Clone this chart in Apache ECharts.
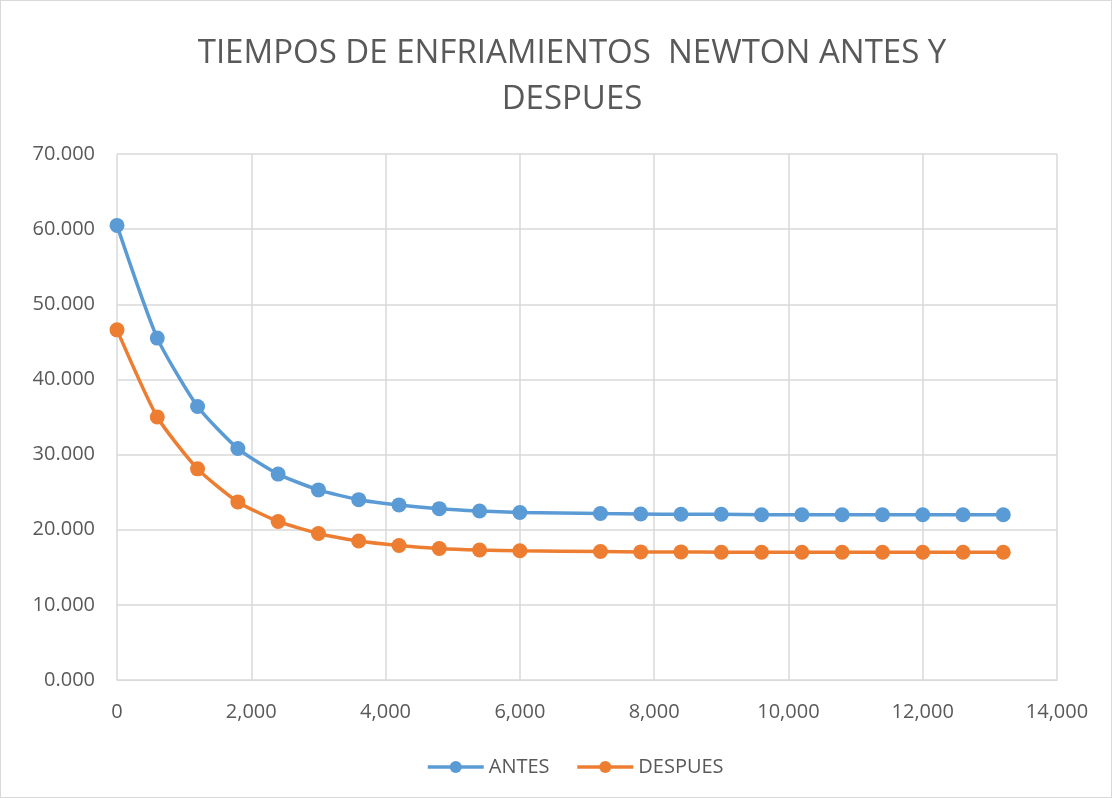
<!DOCTYPE html>
<html>
<head>
<meta charset="utf-8">
<script src="https://cdn.jsdelivr.net/npm/echarts@6/dist/echarts.min.js"></script>
<style>
  html, body { margin: 0; padding: 0; background: #fff; }
  #main { width: 1112px; height: 798px; box-sizing: border-box; border: 1px solid #d9d9d9; }
</style>
</head>
<body>
<div id="main"></div>
<script>
// tiempos (s)
const tiempos = [0, 600, 1200, 1800, 2400, 3000, 3600, 4200, 4800, 5400, 6000,
                 7200, 7800, 8400, 9000, 9600, 10200, 10800, 11400, 12000, 12600, 13200];
const antes = [60.5, 45.5, 36.4, 30.8, 27.4, 25.3, 24.0, 23.3, 22.8, 22.5, 22.3,
               22.15, 22.1, 22.05, 22.05, 22.0, 22.0, 22.0, 22.0, 22.0, 22.0, 22.0];
const despues = [46.6, 35.0, 28.1, 23.7, 21.1, 19.5, 18.5, 17.9, 17.5, 17.3, 17.2,
                 17.1, 17.05, 17.05, 17.0, 17.0, 17.0, 17.0, 17.0, 17.0, 17.0, 17.0];

const font = 'Open Sans';
const txt = '#595959';

const pairs = (ys) => tiempos.map((t, i) => [t, ys[i]]);

let myChart = echarts.init(document.getElementById('main'));
myChart.setOption({
    backgroundColor: '#fff',
    animation: false,
    title: {
        text: 'TIEMPOS DE ENFRIAMIENTOS  NEWTON ANTES Y\nDESPUES',
        left: 566,
        textAlign: 'center',
        top: 25,
        textStyle: { fontFamily: font, fontSize: 33, fontWeight: 'normal', color: txt, lineHeight: 46 }
    },
    legend: {
        bottom: 15,
        left: 420,
        itemWidth: 56,
        itemHeight: 15,
        itemGap: 26,
        textStyle: { fontFamily: font, fontSize: 20, color: txt },
        lineStyle: { width: 3.5 },
        data: ['ANTES', 'DESPUES']
    },
    grid: { left: 116, right: 54, top: 153, bottom: 117 },
    xAxis: {
        type: 'value',
        min: 0, max: 14000, interval: 2000,
        axisLine: { show: true, lineStyle: { color: '#d9d9d9', width: 1 } },
        axisTick: { show: false },
        splitLine: { show: true, lineStyle: { color: '#d9d9d9', width: 1.5 } },
        axisLabel: {
            fontFamily: font, fontSize: 20, color: txt, margin: 22,
            formatter: v => v.toLocaleString('en-US')
        }
    },
    yAxis: {
        type: 'value',
        min: 0, max: 70, interval: 10,
        axisLine: { show: false },
        axisTick: { show: false },
        splitLine: { lineStyle: { color: '#d9d9d9', width: 1.5 } },
        axisLabel: {
            fontFamily: font, fontSize: 20, color: txt, margin: 22,
            formatter: v => v.toFixed(3)
        }
    },
    series: [{
        name: 'ANTES',
        type: 'line',
        data: pairs(antes),
        symbol: 'circle',
        symbolSize: 15,
        itemStyle: { color: '#5b9bd5' },
        lineStyle: { color: '#5b9bd5', width: 3.5 },
        smooth: 0.2
    }, {
        name: 'DESPUES',
        type: 'line',
        data: pairs(despues),
        symbol: 'circle',
        symbolSize: 15,
        itemStyle: { color: '#ed7d31' },
        lineStyle: { color: '#ed7d31', width: 3.5 },
        smooth: 0.2
    }]
});
</script>
</body>
</html>
